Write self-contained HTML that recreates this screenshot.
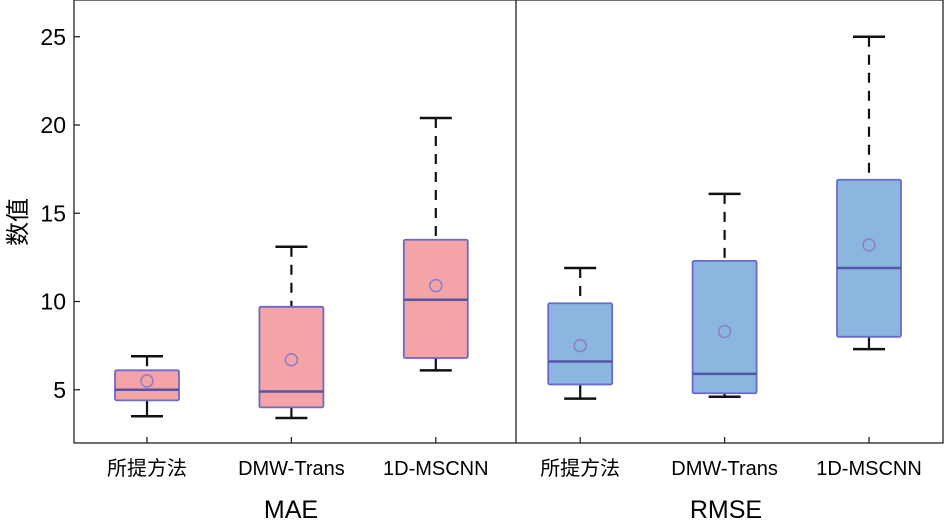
<!DOCTYPE html>
<html><head><meta charset="utf-8"><style>
body{margin:0;background:#fff}
svg text{font-family:"Liberation Sans","Noto Sans CJK SC",sans-serif;fill:#000}
</style></head><body>
<svg id="c" width="945" height="520"></svg>
<script>
const categories=["所提方法","DMW-Trans","1D-MSCNN","所提方法","DMW-Trans","1D-MSCNN"];
const groups=["MAE","RMSE"];
const whiskerLow=[3.5,3.4,6.1,4.5,4.6,7.3];
const q1=[4.4,4.0,6.8,5.3,4.8,8.0];
const medians=[5.0,4.9,10.1,6.6,5.9,11.9];
const q3=[6.1,9.7,13.5,9.9,12.3,16.9];
const whiskerHigh=[6.9,13.1,20.4,11.9,16.1,25.0];
const means=[5.5,6.7,10.9,7.5,8.3,13.2];
const yTicks=[5,10,15,20,25];
const NS="http://www.w3.org/2000/svg";
const svg=document.getElementById('c');
const L=74,R=943,T=0,B=443;
const y=v=>478-(v)*17.65;
const x=i=>147+i*144.4;
function mk(t,a){const e=document.createElementNS(NS,t);for(const k in a)e.setAttribute(k,a[k]);svg.appendChild(e);return e;}
let f=mk('rect',{x:L,y:T,width:R-L,height:B-T,fill:'none',stroke:'#222','stroke-width':1.3});

let d=mk('line',{x1:516,x2:516,y1:T,y2:B,stroke:'#222','stroke-width':1.3});

yTicks.forEach(v=>{
 const l=mk('line',{x1:L,x2:L+6,y1:y(v),y2:y(v),stroke:'#222','stroke-width':1.3});
 
 const t=mk('text',{x:L-8,y:y(v)+8,'text-anchor':'end','font-size':23});t.textContent=v;
 
});
const yt=mk('text',{x:0,y:0,'font-size':24,'text-anchor':'middle',transform:'translate(26,222) rotate(-90)'});yt.textContent='数值';

categories.forEach((c,i)=>{
 const cx=x(i),blue=i>=3;
 const g=document.createElementNS(NS,'g');
 const tk=mk('line',{x1:cx,x2:cx,y1:B,y2:B-6,stroke:'#222','stroke-width':1.3});
 
 const w1=mk('line',{x1:cx,x2:cx,y1:y(whiskerLow[i]),y2:y(q1[i]),stroke:'#111','stroke-width':2.2});
 
 const w2=mk('line',{x1:cx,x2:cx,y1:y(whiskerHigh[i]),y2:y(q3[i]),stroke:'#111','stroke-width':2.2,'stroke-dasharray':'10,8'});
 
 [whiskerLow[i],whiskerHigh[i]].forEach(v=>{
  const cp=mk('line',{x1:cx-16,x2:cx+16,y1:y(v),y2:y(v),stroke:'#111','stroke-width':2.5});
  
 });
 const b=mk('rect',{x:cx-32,y:y(q3[i]),width:64,height:y(q1[i])-y(q3[i]),fill:blue?'#8ab6e0':'#f4a3a6',stroke:'#6a6acc','stroke-width':1.8,rx:1.5});
 
 const m=mk('line',{x1:cx-32,x2:cx+32,y1:y(medians[i]),y2:y(medians[i]),stroke:'#5555a8','stroke-width':2.5});
 
 const mc=mk('circle',{cx:cx,cy:y(means[i]),r:6,fill:'none',stroke:'#8a7fc8','stroke-width':1.5});
 
 const t=mk('text',{x:cx,y:475,'text-anchor':'middle','font-size':20});t.textContent=c;
 
});
groups.forEach((g,j)=>{
 const t=mk('text',{x:j?726:291,y:518,'text-anchor':'middle','font-size':25});t.textContent=g;
 
});
</script>
</body></html>
